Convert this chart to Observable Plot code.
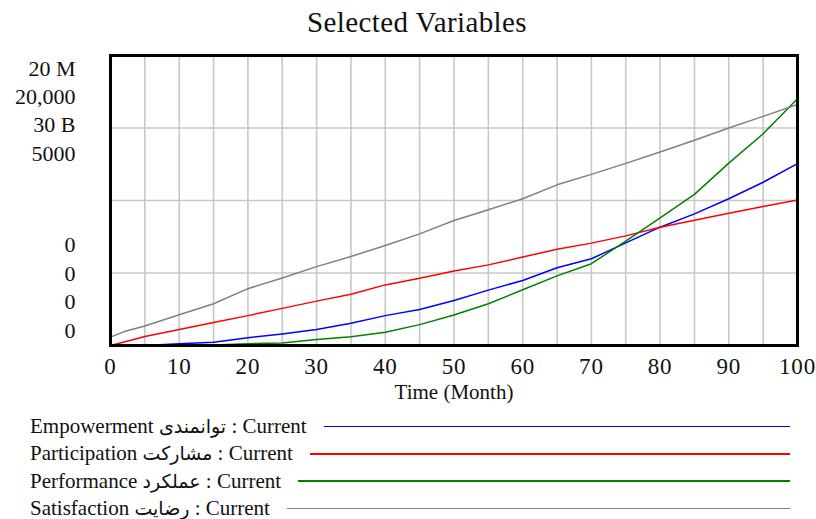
<!DOCTYPE html>
<html>
<head>
<meta charset="utf-8">
<script src="https://cdn.jsdelivr.net/npm/d3@7"></script>
<script src="https://cdn.jsdelivr.net/npm/@observablehq/plot@0.6"></script>
<style>
  body { margin: 0; background: #fff; font-family: "Times New Roman", Times, "Liberation Serif", serif; }
  #title { height: 42px; line-height: 44px; text-align: center; padding-left: 18px; font-size: 29px; letter-spacing: 0.4px; color: #111; }
  #legend { padding-left: 30px; padding-right: 26px; padding-top: 6px; }
  .row { display: flex; align-items: center; height: 27.3px; font-size: 21px; color: #111; }
  .row .txt { white-space: nowrap; font-family: "Times New Roman", Times, "Liberation Serif", "DejaVu Sans", serif; }
  .row .ar { font-size: 19px; letter-spacing: 1px; }
  .row .ln { flex: 1; margin-left: 17px; height: 1.5px; }
</style>
</head>
<body>
<div id="title">Selected Variables</div>
<div id="chart"></div>
<div id="legend"></div>
<script>
const months = [0, 2, 5, 10, 15, 20, 25, 30, 35, 40, 45, 50, 55, 60, 65, 70, 75, 80, 85, 90, 95, 100];
const empowerment = [0, 0, 0, 120000, 220000, 540000, 800000, 1100000, 1540000, 2060000, 2480000, 3100000, 3820000, 4480000, 5360000, 5980000, 7080000, 8160000, 9080000, 10120000, 11260000, 12540000];
const participation = [0, 240, 620, 1100, 1580, 2060, 2560, 3060, 3540, 4180, 4640, 5140, 5560, 6100, 6640, 7060, 7560, 8160, 8640, 9120, 9580, 10040];
const performance = [0, 0, 0, 0, 0.06e9, 0.18e9, 0.27e9, 0.63e9, 0.9e9, 1.38e9, 2.16e9, 3.15e9, 4.32e9, 5.76e9, 7.2e9, 8.46e9, 10.8e9, 13.2e9, 15.63e9, 18.87e9, 21.9e9, 25.53e9];
const satisfaction = [145, 240, 335, 530, 720, 980, 1165, 1360, 1535, 1725, 1925, 2155, 2340, 2530, 2770, 2950, 3140, 3335, 3540, 3750, 3950, 4155];

const seriesNames = ["Empowerment", "Participation", "Performance", "Satisfaction"];
const seriesPersian = ["توانمندی", "مشارکت", "عملکرد", "رضایت"];
const seriesSuffix = ": Current";
const seriesMax = [20e6, 20000, 30e9, 5000];
const seriesMin = [0, 0, 0, 0];
const maxLabels = ["20 M", "20,000", "30 B", "5000"];
const minLabels = ["0", "0", "0", "0"];
const seriesColors = ["#0000ff", "#ff0000", "#008000", "#808080"];
const xTicks = [0, 10, 20, 30, 40, 50, 60, 70, 80, 90, 100];
const xGrid = [5, 10, 15, 20, 25, 30, 35, 40, 45, 50, 55, 60, 65, 70, 75, 80, 85, 90, 95];
const yGrid = [0.25, 0.5, 0.75];

const allValues = [empowerment, participation, performance, satisfaction];
const rows = [];
allValues.forEach((vals, s) => {
  vals.forEach((v, i) => rows.push({series: seriesNames[s], month: months[i], value: v, frac: (v - seriesMin[s]) / (seriesMax[s] - seriesMin[s])}));
});

const font = "'Times New Roman', Times, 'Liberation Serif', serif";
const labelMarks = [];
maxLabels.forEach((t, i) => labelMarks.push(Plot.text([t], {text: d => d, frameAnchor: "top-left", lineAnchor: "middle", dx: -35, dy: 13 + i * 28.4, textAnchor: "end", fontSize: 22, fill: "#111"})));
minLabels.forEach((t, i) => labelMarks.push(Plot.text([t], {text: d => d, frameAnchor: "bottom-left", lineAnchor: "middle", dx: -35, dy: -(15 + i * 28.5), textAnchor: "end", fontSize: 22, fill: "#111"})));

const chart = Plot.plot({
  width: 816,
  height: 365,
  marginLeft: 110,
  marginRight: 19,
  marginTop: 13,
  marginBottom: 62,
  style: {fontFamily: font, background: "transparent", overflow: "visible"},
  x: {domain: [0, 100]},
  y: {domain: [0, 1], axis: null},
  color: {domain: seriesNames, range: seriesColors},
  marks: [
    Plot.ruleX(xGrid, {stroke: "#c8c8c8", strokeWidth: 1.6}),
    Plot.ruleY(yGrid, {stroke: "#c8c8c8", strokeWidth: 1.6}),
    Plot.line(rows, {x: "month", y: "frac", z: "series", stroke: "series", strokeWidth: 1.5}),
    Plot.frame({stroke: "#000", strokeWidth: 3}),
    Plot.axisX({ticks: xTicks, tickSize: 0, tickPadding: 12, fontSize: 23, label: "Time (Month)", labelAnchor: "center", labelArrow: "none", labelOffset: 53, tickFormat: d => String(d)}),
    ...labelMarks
  ]
});
d3.select(chart).selectAll("g[aria-label='x-axis tick label'] text").attr("fill", "#111").style("letter-spacing", "0.8px");
d3.select(chart).selectAll("g[aria-label='x-axis label'] text").attr("font-size", 21).attr("fill", "#111");
document.getElementById("chart").appendChild(chart);

const legend = d3.select("#legend");
seriesNames.forEach((name, i) => {
  const r = legend.append("div").attr("class", "row");
  const t = r.append("span").attr("class", "txt");
  t.append("span").text(name + " ");
  t.append("span").attr("class", "ar").text(seriesPersian[i]);
  t.append("span").text(" " + seriesSuffix);
  r.append("span").attr("class", "ln").style("background-color", seriesColors[i]);
});
</script>
</body>
</html>
